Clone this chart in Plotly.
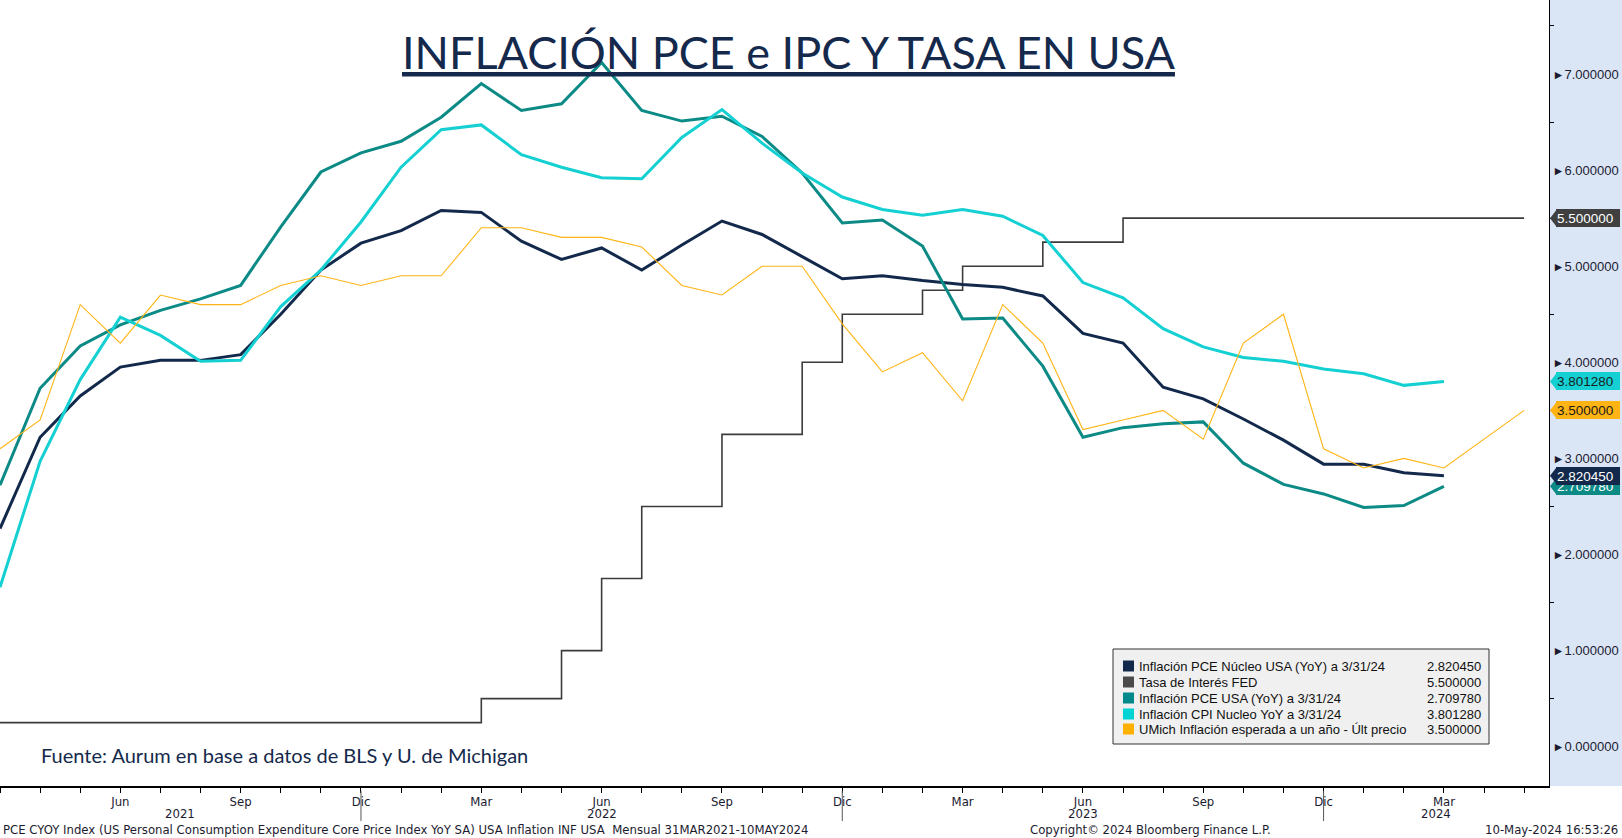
import plotly.graph_objects as go
import pandas as pd

# ---------------- data ----------------
months = pd.date_range("2021-03-01", "2024-05-01", freq="MS")  # Mar 2021 .. May 2024
mes_es = ["Ene", "Feb", "Mar", "Abr", "May", "Jun", "Jul", "Ago", "Sep", "Oct", "Nov", "Dic"]

pce_core = [2.27, 3.22, 3.65, 3.95, 4.02, 4.02, 4.08, 4.50, 4.96, 5.24, 5.37, 5.58,
            5.56, 5.26, 5.07, 5.19, 4.96, 5.22, 5.47, 5.33, 5.10, 4.87, 4.90, 4.85,
            4.81, 4.78, 4.69, 4.30, 4.20, 3.74, 3.62, 3.41, 3.19, 2.94, 2.94, 2.85, 2.820450]
pce = [2.72, 3.73, 4.17, 4.39, 4.54, 4.66, 4.80, 5.41, 5.98, 6.18, 6.30, 6.55,
       6.90, 6.62, 6.69, 7.12, 6.62, 6.51, 6.56, 6.35, 5.97, 5.45, 5.48, 5.21,
       4.45, 4.46, 3.96, 3.22, 3.32, 3.36, 3.38, 2.95, 2.73, 2.63, 2.49, 2.51, 2.709780]
cpi_core = [1.66, 2.97, 3.82, 4.47, 4.28, 4.01, 4.02, 4.58, 4.96, 5.46, 6.03, 6.42,
            6.47, 6.16, 6.03, 5.92, 5.91, 6.34, 6.63, 6.28, 5.97, 5.72, 5.59, 5.53,
            5.59, 5.52, 5.32, 4.83, 4.67, 4.35, 4.16, 4.05, 4.01, 3.93, 3.88, 3.76, 3.801280]
umich = [3.1, 3.4, 4.6, 4.2, 4.7, 4.6, 4.6, 4.8, 4.9, 4.8, 4.9, 4.9,
         5.4, 5.4, 5.3, 5.3, 5.2, 4.8, 4.7, 5.0, 5.0, 4.4, 3.9, 4.1,
         3.6, 4.6, 4.2, 3.3, 3.4, 3.5, 3.2, 4.2, 4.5, 3.1, 2.9, 3.0, 2.9, 3.2, 3.5]
fed = [0.25] * 12 + [0.5, 0.5, 1.0, 1.75, 2.5, 2.5, 3.25, 3.25, 4.0, 4.5, 4.5, 4.75,
                     5.0, 5.0, 5.25, 5.25, 5.5] + [5.5] * 10

legend_names = ["Inflación PCE Núcleo USA (YoY) a 3/31/24",
                "Tasa de Interés FED",
                "Inflación PCE USA (YoY) a 3/31/24",
                "Inflación CPI Nucleo YoY a 3/31/24",
                "UMich Inflación esperada a un año - Últ precio"]
y_ticks = [0, 1, 2, 3, 4, 5, 6, 7]
title_text = "INFLACIÓN PCE e IPC Y TASA EN USA"
source_text = "Fuente: Aurum en base a datos de BLS y U. de Michigan"
footer_left = "PCE CYOY Index (US Personal Consumption Expenditure Core Price Index YoY SA) USA Inflation INF USA  Mensual 31MAR2021-10MAY2024"
footer_mid = "Copyright\u00a9 2024 Bloomberg Finance L.P."
footer_right = "10-May-2024 16:53:26"

# ---------------- styling ----------------
C_NAVY = "#13294b"
C_FED = "#3c3c3c"
C_TEAL = "#0b8a86"
C_CYAN = "#14d0d2"
C_YEL = "#ffb414"
TXT = "#1b1b30"
NARROW = "Liberation Sans Narrow, DejaVu Sans Condensed, Arial Narrow, sans-serif"
SANS = "Liberation Sans, Arial, sans-serif"

W, H = 1622, 838
ML, MR, MT, MB = 0, 73, 0, 52
PW, PH = W - ML - MR, H - MT - MB
YMIN, YMAX = -0.409, 7.77
XMAX = 38.62


def px_x(px):
    return px / PW


def px_y(py):
    return 1 - py / PH


unit_px = PH / (YMAX - YMIN)

xs = list(range(len(months)))

fig = go.Figure()
fig.add_trace(go.Scatter(x=xs[:len(fed)], y=fed, mode="lines", line=dict(color=C_FED, width=1.6, shape="hv"),
                         name=legend_names[1], hoverinfo="skip"))
fig.add_trace(go.Scatter(x=xs[:len(pce_core)], y=pce_core, mode="lines", line=dict(color=C_NAVY, width=3),
                         name=legend_names[0]))
fig.add_trace(go.Scatter(x=xs[:len(pce)], y=pce, mode="lines", line=dict(color=C_TEAL, width=3),
                         name=legend_names[2]))
fig.add_trace(go.Scatter(x=xs[:len(cpi_core)], y=cpi_core, mode="lines", line=dict(color=C_CYAN, width=3),
                         name=legend_names[3]))
fig.add_trace(go.Scatter(x=xs[:len(umich)], y=umich, mode="lines", line=dict(color=C_YEL, width=1.1),
                         name=legend_names[4]))

# x ticks
tick_text = [mes_es[m.month - 1] if m.month in (3, 6, 9, 12) else "" for m in months]

shapes = []
annotations = []

# right panel background
shapes.append(dict(type="rect", xref="paper", yref="paper", x0=1, x1=W / PW, y0=0, y1=1,
                   fillcolor="#dae5f6", line=dict(width=0), layer="below"))

# year separators and year labels
dec_idx = [i for i, m in enumerate(months) if m.month == 12]
bounds = [0] + dec_idx + [XMAX]
years = sorted(set(m.year for m in months))
for i in dec_idx:
    shapes.append(dict(type="line", xref="x", yref="paper", x0=i, x1=i,
                       y0=px_y(791), y1=px_y(821), line=dict(color="#555555", width=1)))
for yr, a, b in zip(years, bounds[:-1], bounds[1:]):
    annotations.append(dict(x=(a + b) / 2, y=px_y(813), xref="x", yref="paper", text=str(yr),
                            showarrow=False, xanchor="center", yanchor="middle",
                            font=dict(family=NARROW, size=13, color=TXT)))

# footers
annotations.append(dict(x=px_x(1), y=px_y(829), xref="paper", yref="paper", text=footer_left,
                        showarrow=False, xanchor="left", yanchor="middle",
                        font=dict(family=NARROW, size=13, color=TXT)))
annotations.append(dict(x=px_x(1150), y=px_y(829), xref="paper", yref="paper", text=footer_mid,
                        showarrow=False, xanchor="center", yanchor="middle",
                        font=dict(family=NARROW, size=13, color=TXT)))
annotations.append(dict(x=px_x(1620), y=px_y(829), xref="paper", yref="paper", text=footer_right,
                        showarrow=False, xanchor="right", yanchor="middle",
                        font=dict(family=NARROW, size=13, color=TXT)))

# title
annotations.append(dict(x=px_x(788), y=px_y(52), xref="paper", yref="paper",
                        text="<u>" + title_text + "</u>", showarrow=False,
                        xanchor="center", yanchor="middle",
                        font=dict(family="Lato, Open Sans, sans-serif", size=45, color="#14294b")))
# source
annotations.append(dict(x=px_x(39), y=px_y(755), xref="paper", yref="paper", text=source_text,
                        showarrow=False, xanchor="left", yanchor="middle",
                        font=dict(family="Lato, Open Sans, sans-serif", size=20, color="#14294b")))

# legend box
leg_colors = [C_NAVY, "#4a4a4a", "#00898a", "#00d3d3", "#ffb000"]
leg_values = [pce_core[-1], fed[-1], pce[-1], cpi_core[-1], umich[-1]]
shapes.append(dict(type="rect", xref="paper", yref="paper", x0=px_x(1113), x1=px_x(1489),
                   y0=px_y(744), y1=px_y(649), fillcolor="#f0f0f0",
                   line=dict(color="#333333", width=1)))
row_y = [666, 682, 698, 714, 729]
for name, col, val, ry in zip(legend_names, leg_colors, leg_values, row_y):
    shapes.append(dict(type="rect", xref="paper", yref="paper", x0=px_x(1123), x1=px_x(1134),
                       y0=px_y(ry + 5.5), y1=px_y(ry - 5.5), fillcolor=col, line=dict(width=0)))
    annotations.append(dict(x=px_x(1137), y=px_y(ry), xref="paper", yref="paper", text=name,
                            showarrow=False, xanchor="left", yanchor="middle",
                            font=dict(family=SANS, size=13, color="#111111")))
    annotations.append(dict(x=px_x(1483), y=px_y(ry), xref="paper", yref="paper", text=f"{val:.6f}",
                            showarrow=False, xanchor="right", yanchor="middle",
                            font=dict(family=SANS, size=13, color="#111111")))

# value tags on the right axis (drawn bottom to top)
tags = [(pce[-1], "#0b8a86", "white"),
        (pce_core[-1], "#13294b", "white"),
        (umich[-1], "#ffb414", "#1b1b1b"),
        (cpi_core[-1], "#14d0d2", "#1b1b1b"),
        (fed[-1], "#404040", "white")]
half = 9 / unit_px
for v, bg, fg in tags:
    shapes.append(dict(type="path", xref="paper", yref="y",
                       path=f"M {px_x(1550)},{v} L {px_x(1557)},{v + half} L {px_x(1557)},{v - half} Z",
                       fillcolor=bg, line=dict(width=0)))
    annotations.append(dict(x=px_x(1556), y=v, xref="paper", yref="y", text=f"{v:.6f}",
                            showarrow=False, xanchor="left", yanchor="middle",
                            width=62, height=16, borderpad=1, borderwidth=0, bgcolor=bg,
                            align="left",
                            font=dict(family=SANS, size=13.5, color=fg)))

tri = "<span style='font-size:12px'>\u25BA</span>"
fig.update_layout(
    width=W, height=H,
    margin=dict(l=ML, r=MR, t=MT, b=MB, pad=0),
    paper_bgcolor="white", plot_bgcolor="white",
    showlegend=False,
    xaxis=dict(range=[0, XMAX], tickmode="array", tickvals=xs, ticktext=tick_text,
               ticks="outside", ticklen=5, tickcolor="black", tickwidth=1,
               ticklabelstandoff=-3,
               showgrid=False, zeroline=False, showline=True, linecolor="black", linewidth=2,
               tickfont=dict(family=NARROW, size=13, color=TXT)),
    yaxis=dict(side="right", range=[YMIN, YMAX], tickmode="array", tickvals=y_ticks,
               ticktext=[tri + f"{t:.6f}" for t in y_ticks], ticks="",
               showgrid=False, zeroline=False, showline=True, linecolor="black", linewidth=1,
               tickfont=dict(family=SANS, size=13, color=TXT),
               minor=dict(tickvals=[t + 0.5 for t in y_ticks], ticks="outside", ticklen=4,
                          tickcolor="black")),
    shapes=shapes, annotations=annotations,
)

fig.write_html("out.html")
